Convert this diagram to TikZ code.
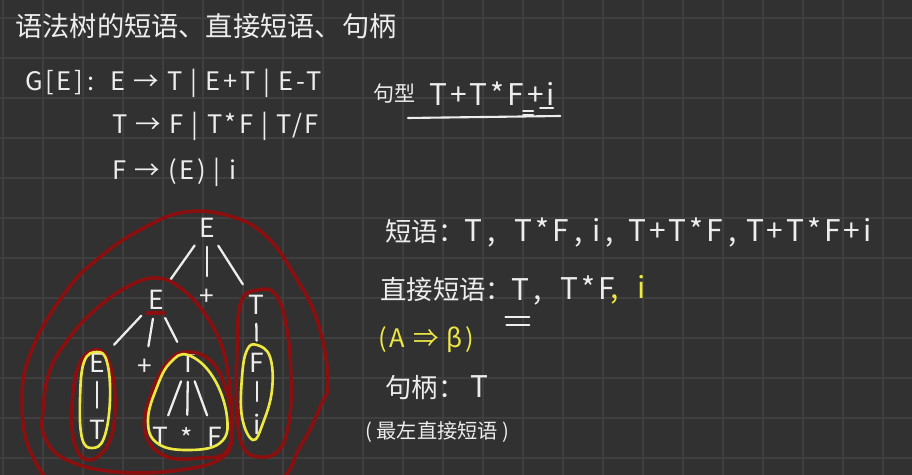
\documentclass[tikz,border=0pt]{standalone}
\usepackage{fontspec}
\setmainfont{Noto Sans CJK SC}
\newfontfamily\handfont[LetterSpace=10]{Noto Sans CJK SC}
\newcommand\latn[1]{{\handfont\fontsize{17}{18}\selectfont#1}}
\usetikzlibrary{calc,positioning}
\definecolor{board}{HTML}{313131}
\definecolor{boardline}{HTML}{3F3F3F}
\definecolor{chalk}{HTML}{EDEDED}
\definecolor{inkred}{HTML}{8C0F0F}
\definecolor{inkyellow}{HTML}{EEE843}

\tikzset{
  sym/.style={text=chalk,font=\fontsize{15}{16}\selectfont,inner sep=1pt},
  edge/.style={chalk,line width=1.3pt,line cap=round,shorten <=4pt,shorten >=6pt},
  stroke/.style={chalk,line width=1.2pt,line cap=round},
  redloop/.style={inkred,line width=2pt},
  yelloop/.style={inkyellow,line width=1.5pt},
  note/.style={text=chalk,anchor=west,inner sep=0pt,font=\fontsize{15}{16}\selectfont},
  rule/.style={note,font=\handfont\fontsize{14.5}{16}\selectfont},
}

\begin{document}
\begin{tikzpicture}[x=0.02cm,y=-0.02cm]
  \useasboundingbox (0,0) rectangle (912,475);
  \clip (0,0) rectangle (912,475);
  \fill[board] (0,0) rectangle (912,475);
  \foreach \gx in {3,43,...,883}
    \draw[boardline,line width=0.9pt] (\gx,0) -- (\gx,475);
  \foreach \gy in {18,58,...,458}
    \draw[boardline,line width=0.9pt] (0,\gy) -- (912,\gy);

  % title and grammar
  \node[note,font=\fontsize{15.5}{17}\selectfont] (title) at (15,26)
    {语法树的短语、直接短语、句柄};
  \node[rule] (gram) at (25,83) {G[E]\,:};
  \node[rule] (rule1) at (110,83) {E → T | E+T | E-T};
  \node[rule] (rule2) at (112,126) {T → F | T*F | T/F};
  \node[rule] (rule3) at (112,172) {F → (E) | i};

  % sentential form
  \node[note,font=\fontsize{12}{14}\selectfont] (sflabel) at (373,94) {句型};
  \node[note] (sf) at (429,94) {\latn{T+T*F+i}};
  \draw[stroke] ($(sf.west)+(-21,24)$) -- ($(sf.east)+(5,22)$);
  \draw[stroke] ($(sf.east)+(-15,14)$) -- ($(sf.east)+(-2,14)$);
  \draw[stroke] ($(sf.east)+(-32,17)$) -- ($(sf.east)+(-22,17)$);
  \draw[stroke] ($(sf.east)+(-32,21)$) -- ($(sf.east)+(-22,21)$);

  % phrases
  \node[note] (phr) at (385,232)
    {短语：\latn{T\,,\ \ T*F\,,\ i\,,\ \,T+T*F\,,\ T+T*F+i}};
  \node[note] (dp) at (380,290) {直接短语：};
  \node[note] (dpT) at (511,290) {\latn{T}};
  \node[note] (dprest) at (533,290) {\latn{,\ \ T*F}};
  \node[note,text=inkyellow] (dpi) at (610,290) {\latn{,\ \ i}};
  \draw[stroke] ($(dpT.center)+(-15,27)$) -- ($(dpT.center)+(9,27)$);
  \draw[stroke] ($(dpT.center)+(-14,35)$) -- ($(dpT.center)+(9,35)$);
  \node[note,text=inkyellow,font=\handfont\fontsize{14.5}{16}\selectfont] (deriv)
    at (378,340) {(A ⇒ β)};
  \node[note] (handle) at (385,388) {句柄：\ \latn{T}};
  \node[note,font=\fontsize{11.5}{14}\selectfont] (leftmost) at (365,432)
    {( 最左直接短语 )};

  % syntax tree
  \node[sym] (E0) at (207,228) {E};
  \node[sym] (E1) at (156,300) {E};
  \node[sym] (p0) at (207,297) {+};
  \node[sym] (T0) at (256,305) {T};
  \node[sym] (E2) at (97,363) {E};
  \node[sym] (p1) at (145,367) {+};
  \node[sym] (T1) at (188,363) {T};
  \node[sym] (T2) at (97,430) {T};
  \node[sym] (T3) at (160,437) {T};
  \node[sym] (m0) at (187,438) {*};
  \node[sym] (F0) at (215,437) {F};
  \node[sym] (F1) at (257,363) {F};
  \node[sym] (i0) at (257,424) {i};

  \draw[edge] (E0) -- (E1);
  \draw[edge] (E0) -- (p0);
  \draw[edge] (E0) -- (T0);
  \draw[edge] (E1) -- (E2);
  \draw[edge] (E1) -- (p1);
  \draw[edge] (E1) -- (T1);
  \draw[edge] (E2) -- (T2);
  \draw[edge] (T1) -- (T3);
  \draw[edge] (T1) -- (m0);
  \draw[edge] (T1) -- (F0);
  \draw[edge] (T0) -- (F1);
  \draw[edge] (F1) -- (i0);

  % phrase loops
  \draw[redloop] plot[smooth cycle,tension=0.7] coordinates {
    (185,212) (233,217) (267,237) (293,273) (317,320) (328,380)
    (320,407) (300,447) (270,485) (170,500) (70,490) (33,457)
    (22,400) (33,347) (67,290) (100,257) (140,230)};
  \draw[redloop] plot[smooth cycle,tension=0.7] coordinates {
    (157,278) (183,290) (207,317) (223,350) (230,390) (232,430)
    (223,457) (180,470) (117,472) (67,460) (45,438) (43,410)
    (50,370) (70,337) (95,310) (127,287)};
  \draw[redloop] ($(E1)+(-10,13)$) -- ($(E1)+(9,13)$);
  \draw[redloop] plot[smooth cycle,tension=0.7] coordinates {
    (95,350) (108,360) (115,397) (110,440) (90,460) (75,445)
    (72,405) (79,365)};
  \draw[redloop] plot[smooth cycle,tension=0.7] coordinates {
    (188,352) (212,362) (226,390) (232,423) (226,452) (200,458)
    (165,456) (145,432) (151,395) (168,362)};
  \draw[redloop] plot[smooth cycle,tension=0.7] coordinates {
    (258,290) (276,295) (287,330) (291,380) (289,422) (279,450)
    (260,457) (243,447) (237,410) (237,350) (241,302)};

  \draw[yelloop] plot[smooth cycle,tension=0.7] coordinates {
    (97,352) (107,362) (110,400) (104,438) (92,448) (82,438)
    (80,400) (84,362)};
  \draw[yelloop] plot[smooth cycle,tension=0.7] coordinates {
    (188,355) (213,377) (227,417) (220,443) (187,450) (157,443)
    (148,420) (157,387) (170,363)};
  \draw[yelloop] plot[smooth cycle,tension=0.7] coordinates {
    (257,345) (270,357) (272,390) (263,423) (253,440) (242,417)
    (242,377) (247,350)};
\end{tikzpicture}
\end{document}
